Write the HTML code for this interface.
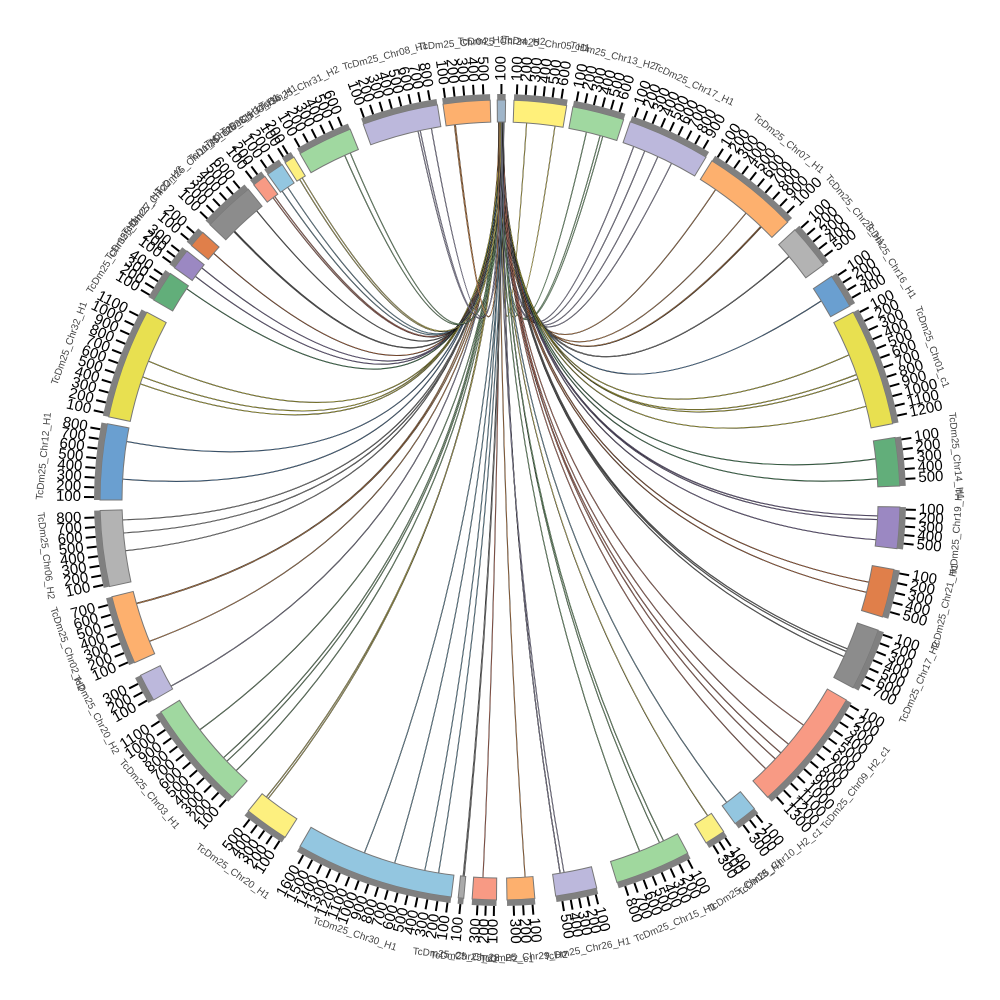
<!DOCTYPE html>
<html><head><meta charset="utf-8"><style>
html,body{margin:0;padding:0;background:#fff;width:1000px;height:1000px;overflow:hidden}
svg{display:block}
</style></head><body>
<svg id="s" width="1000" height="1000" viewBox="0 0 1000 1000" xmlns="http://www.w3.org/2000/svg"></svg>
<script>
var S=document.getElementById('s');
var cx=500,cy=500,R0=378,R1=400;
var segs=[
[359.6,0.8,'#9fb5c9','TcDm25_Chr24_H2'],[2,9.6,'#fff07a','TcDm25_Chr05_H1'],[10.5,18,'#a0d8a0','TcDm25_Chr13_H2'],
[19,31,'#bcb8dc','TcDm25_Chr17_H1'],[32,46,'#fdb06e','TcDm25_Chr07_H1'],[47.5,54,'#b3b3b3','TcDm25_Chr23_H1'],
[56,61,'#6a9fd0','TcDm25_Chr16_H1'],[62,79,'#e8e050','TcDm25_Chr01_c1'],[81,88,'#62ae7a','TcDm25_Chr14_H1'],
[91,97,'#9b88c2','TcDm25_Chr19_H1'],[100,107,'#e07f4a','TcDm25_Chr21_H1'],[109,118,'#8c8c8c','TcDm25_Chr17_H2'],
[120,138,'#f89a84','TcDm25_Chr09_H2_c1'],[140.5,144,'#93c6e0','TcDm25_Chr10_H2_c1'],[146,149,'#fbf080','TcDm25_Chr18_H1'],
[152,163,'#a0d89e','TcDm25_Chr15_H1'],[166,172,'#bcb8dc','TcDm25_Chr26_H1'],[175,179,'#fdb06e','TcDm25_Chr29_H2'],
[180.5,184,'#f89a84','TcDm25_Chr28_H2_c1'],[185.2,186,'#aaaaaa','TcDm25_Chr25_c1'],[187,210,'#93c6e0','TcDm25_Chr30_H1'],
[212.5,219,'#fdf07f','TcDm25_Chr20_H1'],[222,238,'#a0d8a0','TcDm25_Chr03_H1'],[240,244,'#bcb8dc','TcDm25_Chr20_H2'],
[246,256,'#fdb06e','TcDm25_Chr02_H2'],[257.5,268.5,'#b3b3b3','TcDm25_Chr06_H2'],[270,281,'#6a9fd0','TcDm25_Chr12_H1'],
[282,298,'#e8e050','TcDm25_Chr32_H1'],[300,304.5,'#62ae7a','TcDm25_Chr35_H1'],[305.5,308.5,'#9b88c2','TcDm25_Chr27_H1'],
[309.5,312,'#e07f4a','TcDm25_Chr22_H2'],[313.5,321,'#8c8c8c','TcDm25_Chr11_H2'],[322,324,'#f89a84','TcDm25_Chr33_H1'],
[324.5,327,'#93c6e0','TcDm25_Chr34_H1'],[327.5,329,'#fdf07f','TcDm25_Chr36_H1'],[330,338,'#a0d8a0','TcDm25_Chr31_H2'],
[340,351,'#bcb8dc','TcDm25_Chr08_H1'],[351.8,358.6,'#fdb06e','TcDm25_Chr04_H1']];
function P(a,r){var t=a*Math.PI/180;return [cx+r*Math.sin(t),cy-r*Math.cos(t)];}
var out='';
function arc(a0,a1,r0,r1,fill,stroke){
 if(a1<a0)a1+=360;
 var p1=P(a0,r1),p2=P(a1,r1),p3=P(a1,r0),p4=P(a0,r0),lg=(a1-a0)>180?1:0;
 return '<path d="M'+p1+' A'+r1+' '+r1+' 0 '+lg+' 1 '+p2+' L'+p3+' A'+r0+' '+r0+' 0 '+lg+' 0 '+p4+' Z" fill="'+fill+'" stroke="'+(stroke||'none')+'" stroke-width="1"/>';
}
var seed=7;function rnd(){seed=(seed*16807)%2147483647;return seed/2147483647;}
// links
var links='';
segs.forEach(function(s,i){
 if(i==0)return;
 var a0=s[0],a1=s[1];if(a1<a0)a1+=360;
 var n=1+Math.floor((a1-a0)/6)+Math.floor(rnd()*2);
 for(var k=0;k<n;k++){
  var a=a0+(a1-a0)*(0.1+0.8*rnd());
  var p=P(a,R0),q=P(359.8+rnd()*0.8,R0);
  var d='M'+p+' Q'+cx+','+(cy+10)+' '+q;
  links+='<path d="'+d+'" fill="none" stroke="#111" stroke-width="1.1"/>';
  links+='<path d="'+d+'" fill="none" stroke="'+s[2]+'" stroke-width="0.5" opacity="0.9"/>';
 }
});
out+=links;
segs.forEach(function(s,i){
 var a0=s[0],a1=s[1];if(a1<a0)a1+=360;
 out+=arc(a0,a1,R0,R1,s[2],'#777');
 out+=arc(a0,a1,R1,R1+6,'#808080');
 var span=a1-a0,nt=Math.max(1,Math.floor(span/1.5)+1);
 var lab='';
 for(var k=0;k<nt;k++){
  var a=a0+ (nt==1?span/2:span*(k+0.3)/(nt));
  var p=P(a,R1+6),q=P(a,R1+16);
  out+='<line x1="'+p[0]+'" y1="'+p[1]+'" x2="'+q[0]+'" y2="'+q[1]+'" stroke="#000" stroke-width="2"/>';
  var t=P(a,R1+19),left=(a%360)>180;
  var txt=String((k+1)*100);
  var rot=left?a+90:a-90;
  lab+='<text x="'+t[0]+'" y="'+t[1]+'" transform="rotate('+rot+' '+t[0]+' '+t[1]+')" text-anchor="'+(left?'end':'start')+'" dominant-baseline="middle" font-size="15" font-family="Liberation Sans,sans-serif">'+txt+'</text>';
 }
 out+=lab;
 var m=(a0+a1)/2%360,np=P(m,458),bottom=m>90&&m<270;
 out+='<text x="'+np[0]+'" y="'+np[1]+'" transform="rotate('+(bottom?m+180:m)+' '+np[0]+' '+np[1]+')" text-anchor="middle" dominant-baseline="middle" font-size="10" fill="#444" font-family="Liberation Sans,sans-serif">'+s[3]+'</text>';
});
S.innerHTML=out;
</script>
</body></html>
